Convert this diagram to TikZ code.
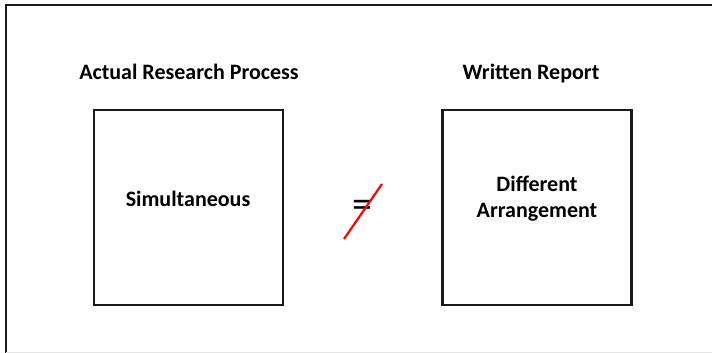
\documentclass[tikz,border=0pt]{standalone}
\usepackage{fontspec}
\setmainfont{Carlito}
\begin{document}
\begin{tikzpicture}[x=1pt,y=-1pt,
  frame/.style={draw=black!90, line width=2.2pt},
  box/.style={draw=black!90, line width=2.2pt, minimum width=189pt, minimum height=195pt, inner sep=0pt},
  lbl/.style={font=\bfseries\fontsize{22}{26}\selectfont, align=center, inner sep=0pt, anchor=base},
  cross/.style={draw=red, line width=2.2pt}]
\useasboundingbox (0,0) rectangle (712,353);
\fill[white] (0,0) rectangle (712,353);
\draw[frame] (6,360) -- (6,5) -- (720,5);
\draw[black!10, line width=1pt] (6,352) -- (712,352);
\node[box] (left) at (188.5,207.5) {};
\node[box] (right) at (537,207.5) {};
\node[lbl] (ltitle) at (189,80) {Actual Research Process};
\node[lbl] (rtitle) at (531,80) {Written Report};
\node[lbl] (ltext) at (188,206.5) {Simultaneous};
\node[lbl] (rtext1) at (537,191) {Different};
\node[lbl] (rtext2) at (537,217) {Arrangement};
\node[font=\fontsize{40}{40}\selectfont, inner sep=0pt] (neq) at (362.5,208.5) {=};
\coordinate (c1) at (344,239);
\coordinate (c2) at (382,184);
\draw[cross] (c1) -- (c2);
\end{tikzpicture}
\end{document}
